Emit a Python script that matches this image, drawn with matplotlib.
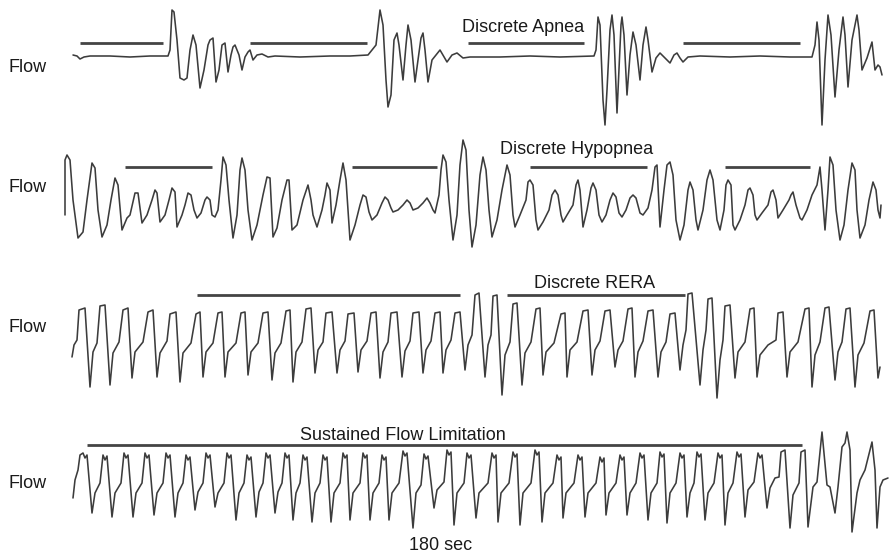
import numpy as np
import matplotlib
matplotlib.use("Agg")
import matplotlib.pyplot as plt

plt.rcParams['font.family'] = ['Liberation Sans', 'DejaVu Sans']

# ---------------- data (time sample, flow reading; readings grow downward) ----------------
apnea_trace = [
    (73,55),(77,56),(80,59),(84,57),(90,56),(110,56),(130,57),(150,56),(168,56),(170,50),(172,10),(174,12),
    (177,40),(180,78),(184,80),(187,78),(190,50),(193,35),(196,45),(200,88),(204,70),(208,45),(210,40),
    (213,38),(216,82),(219,70),(222,45),(225,43),(228,72),(231,55),(233,47),(235,45),(239,55),(242,70),
    (245,57),(248,52),(250,50),(253,60),(257,55),(262,54),(268,57),(275,56),(300,57),(330,56),(350,56),
    (368,55),(372,50),(376,45),(380,10),(383,25),(386,80),(388,107),(391,95),(394,40),(397,33),(399,45),
    (403,80),(406,45),(408,25),(411,40),(415,82),(418,60),(421,38),(423,33),(425,50),(428,82),(432,60),
    (436,55),(440,50),(447,62),(452,55),(457,53),(463,58),(470,57),(500,57),(530,56),(560,57),(594,56),
    (596,50),(598,17),(600,25),(603,100),(605,125),(607,90),(610,30),(612,15),(614,35),(617,113),(619,70),
    (621,25),(622,17),(624,35),(627,95),(630,55),(633,32),(636,45),(640,80),(643,45),(646,27),(648,40),
    (652,72),(656,58),(660,53),(665,58),(670,63),(674,55),(677,53),(680,58),(683,62),(688,57),(700,56),
    (730,57),(760,56),(790,57),(812,57),(815,45),(817,22),(819,40),(822,125),(825,60),(828,15),(831,35),
    (835,97),(839,50),(843,17),(845,35),(848,87),(852,40),(857,15),(859,30),(862,70),(867,58),(872,42),
    (875,70),(878,65),(880,67),(882,75),
]

hypopnea_trace = [
    (65,215),(65,160),(67,155),(70,160),(73,200),(78,238),(83,232),(87,200),(92,163),(95,168),(98,210),
    (102,237),(107,225),(111,200),(115,178),(118,185),(122,230),(127,218),(130,215),(135,193),(138,193),
    (142,223),(147,215),(152,200),(155,190),(157,193),(160,222),(165,215),(169,200),(172,188),(175,192),
    (177,227),(182,215),(185,205),(188,193),(191,195),(194,210),(197,218),(201,213),(205,200),(207,197),
    (210,200),(212,215),(215,217),(218,210),(221,180),(223,157),(226,165),(229,200),(233,238),(237,215),
    (240,170),(242,158),(245,170),(248,210),(252,240),(257,225),(263,195),(267,177),(270,178),(273,237),
    (277,228),(282,200),(287,180),(289,180),(292,230),(297,225),(303,200),(308,185),(311,200),(313,215),
    (317,227),(322,210),(325,195),(327,183),(330,190),(332,223),(336,205),(340,180),(343,163),(346,180),
    (350,240),(355,225),(360,205),(363,195),(366,197),(369,212),(372,220),(377,215),(382,203),(385,197),
    (388,200),(391,208),(393,212),(398,210),(403,205),(407,200),(410,203),(413,210),(418,208),(423,203),
    (427,198),(430,203),(433,210),(435,213),(439,195),(441,170),(443,155),(446,162),(449,200),(453,240),
    (457,215),(460,165),(463,140),(466,150),(469,210),(472,247),(476,225),(480,175),(483,157),(486,170),
    (489,210),(492,237),(497,220),(502,190),(507,165),(510,175),(513,215),(515,227),(520,215),(526,200),
    (528,182),(530,180),(533,185),(536,220),(538,230),(543,222),(549,210),(552,195),(555,190),(558,195),
    (561,215),(563,222),(567,215),(573,205),(576,185),(578,180),(580,190),(583,227),(587,210),(591,188),
    (593,183),(596,190),(599,215),(602,222),(606,215),(610,200),(613,193),(616,197),(619,213),(622,217),
    (626,210),(630,198),(633,195),(636,198),(640,213),(643,215),(648,208),(652,190),(655,167),(657,165),
    (660,227),(664,190),(667,165),(670,162),(673,175),(676,220),(680,240),(684,225),(688,190),(690,182),
    (693,190),(696,220),(698,230),(703,210),(707,180),(710,170),(713,180),(717,220),(720,230),(724,210),
    (726,185),(728,180),(731,185),(733,225),(735,230),(740,220),(745,205),(748,190),(750,188),(753,195),
    (755,215),(757,220),(762,213),(768,205),(771,192),(773,190),(776,200),(778,218),(783,210),(789,200),
    (791,195),(793,192),(796,205),(800,218),(802,220),(807,210),(812,195),(817,185),(820,167),(822,190),
    (825,230),(828,190),(830,157),(833,165),(836,210),(840,240),(844,225),(848,190),(852,163),(855,170),
    (857,210),(860,238),(865,225),(869,200),(873,182),(876,190),(878,210),(880,218),(881,205),
]

rera_trace = [
    (72,357),(74,345),(77,340),(79,310),(85,308),(90,387),
    (93,352),(97,343),(100,306),(105,305),(110,385),
    (113,353),(119,342),(123,310),(128,308),(132,378),
    (135,352),(143,342),(148,312),(153,310),(157,377),
    (160,353),(167,341),(170,314),(176,312),(180,382),
    (183,353),(191,343),(196,314),(200,312),(203,377),
    (206,352),(213,343),(218,313),(222,312),(225,377),
    (228,352),(236,343),(241,313),(245,312),(248,375),
    (251,352),(258,343),(263,313),(268,312),(272,380),
    (275,353),(281,343),(286,311),(290,310),(293,382),
    (296,352),(302,342),(306,309),(311,308),(315,373),
    (318,350),(323,342),(326,313),(332,312),(337,373),
    (340,350),(345,341),(348,314),(354,313),(358,372),
    (361,350),(367,341),(371,313),(376,312),(380,378),
    (383,352),(388,342),(391,313),(397,312),(402,377),
    (405,351),(410,341),(413,313),(419,312),(423,373),
    (426,350),(431,341),(435,313),(440,312),(443,373),
    (446,350),(451,340),(455,313),(460,312),(465,370),
    (468,345),(472,335),(475,295),(479,293),(485,377),
    (488,345),(491,335),(493,296),(497,295),(502,395),
    (505,355),(510,342),(513,304),(517,303),(522,385),
    (525,353),(531,342),(536,309),(540,308),(543,375),
    (546,352),(554,343),(561,314),(565,313),(567,377),
    (570,350),(577,342),(583,311),(588,310),(592,375),
    (595,350),(600,341),(605,311),(610,310),(615,367),
    (618,350),(623,341),(628,309),(632,308),(635,377),
    (638,352),(643,341),(648,311),(653,310),(658,377),
    (661,352),(666,342),(670,314),(675,313),(680,370),
    (683,345),(686,330),(688,294),(692,293),(700,385),
    (703,350),(706,330),(708,299),(712,298),(717,398),
    (720,360),(723,340),(725,306),(730,305),(735,378),
    (738,352),(745,342),(750,309),(754,308),(757,377),
    (760,355),(768,345),(776,340),(778,313),(783,312),(787,377),
    (790,352),(798,342),(805,309),(809,308),(812,387),
    (815,355),(820,342),(825,308),(829,307),(835,380),
    (838,352),(842,342),(846,309),(850,308),(855,387),
    (858,355),(864,343),(870,311),(874,310),(878,378),(880,367),
]

flowlim_trace = [
    (73,498),(75,480),(78,470),(80,455),(83,453),(85,458),(87,455),(92,513),
    (95,493),(100,483),(103,455),(105,460),(107,456),(112,517),
    (115,493),(121,483),(124,453),(126,458),(128,455),(133,517),
    (136,493),(142,483),(145,453),(147,458),(149,455),(154,515),
    (157,493),(163,483),(166,453),(168,458),(170,455),(175,517),
    (178,493),(183,483),(186,455),(188,460),(190,457),(195,510),
    (198,492),(203,483),(206,453),(208,458),(210,455),(215,507),
    (218,493),(224,483),(227,453),(229,458),(231,455),(236,520),
    (239,493),(244,483),(247,455),(249,460),(251,457),(256,517),
    (259,492),(263,483),(266,453),(268,458),(270,455),(275,513),
    (278,492),(282,483),(285,453),(287,458),(289,455),(293,520),
    (296,493),(300,483),(303,455),(305,460),(307,457),(312,522),
    (315,493),(320,483),(323,455),(325,460),(327,457),(331,522),
    (334,493),(340,483),(343,453),(345,458),(347,455),(350,520),
    (353,493),(360,483),(363,453),(365,458),(367,455),(370,520),
    (373,493),(379,483),(382,455),(384,460),(386,457),(389,520),
    (392,493),(399,483),(403,451),(405,456),(407,453),(413,528),
    (416,493),(421,485),(424,454),(426,459),(428,456),(434,508),
    (437,490),(444,482),(447,450),(449,455),(451,452),(454,525),
    (457,493),(464,483),(467,453),(469,458),(471,455),(476,518),
    (479,493),(488,483),(492,453),(494,458),(496,455),(498,522),
    (501,493),(509,483),(513,452),(515,457),(517,454),(520,525),
    (523,493),(531,483),(535,450),(537,455),(539,452),(542,522),
    (545,493),(553,483),(557,455),(559,460),(561,457),(563,518),
    (566,493),(574,483),(578,455),(580,460),(582,457),(585,517),
    (588,493),(596,483),(600,457),(602,462),(604,458),(606,515),
    (609,493),(616,483),(620,455),(622,460),(624,457),(627,515),
    (630,493),(636,483),(640,453),(642,458),(644,455),(648,520),
    (651,493),(657,483),(660,452),(662,457),(664,454),(667,523),
    (670,493),(676,483),(680,453),(682,458),(684,455),(687,517),
    (690,493),(694,483),(697,452),(699,457),(701,454),(705,520),
    (708,493),(714,483),(718,453),(720,458),(722,455),(725,525),
    (728,493),(733,483),(737,452),(739,457),(741,454),(745,517),
    (748,490),(754,482),(758,453),(760,458),(762,455),(767,508),
    (770,488),(775,478),(779,477),(781,452),(785,450),(790,528),
    (793,495),(799,483),(801,452),(805,450),(808,527),
    (813,487),(817,482),(822,432),(827,485),(830,487),(835,513),
    (838,487),(842,447),(845,443),(847,432),(850,450),(852,532),
    (857,493),(860,480),(865,470),(872,442),(875,470),(877,528),
    (880,487),(883,480),(888,478),
]

# scored event spans (start, end) on the same time axis
apnea_events = [(80, 163), (250, 367), (468, 584), (683, 800)]
hypopnea_events = [(125, 212), (352, 437), (530, 647), (725, 810)]
rera_events = [(197, 460), (507, 685)]
flowlim_events = [(87, 802)]

row_labels = ["Flow", "Flow", "Flow", "Flow"]
event_titles = ["Discrete Apnea", "Discrete Hypopnea", "Discrete RERA", "Sustained Flow Limitation"]
time_label = "180 sec"

# ---------------- drawing ----------------
fig = plt.figure(figsize=(8.89, 5.57), dpi=100)
fig.patch.set_facecolor("white")
ax = fig.add_axes([0, 0, 1, 1])
ax.set_xlim(0, 889)
ax.set_ylim(557, 0)
ax.axis("off")

wave_color = "#3c3c3c"
bar_color = "#444444"

traces = [apnea_trace, hypopnea_trace, rera_trace, flowlim_trace]
events = [apnea_events, hypopnea_events, rera_events, flowlim_events]
bar_levels = [43, 167, 295, 445]
label_levels = [67, 188, 327, 483]
title_pos = [(523, 28), (577, 150), (595, 284), (403, 435)]

for tr, ev, bl, ll, lab, ttl, tp in zip(traces, events, bar_levels, label_levels,
                                         row_labels, event_titles, title_pos):
    arr = np.array(tr, dtype=float)
    ax.plot(arr[:, 0], arr[:, 1], color=wave_color, lw=1.15,
            solid_joinstyle="round", solid_capstyle="round")
    for s, e in ev:
        ax.plot([s, e], [bl, bl], color=bar_color, lw=2.0, solid_capstyle="butt")
    ax.text(8, ll, lab, fontsize=13, ha="left", va="center", color="#1a1a1a")
    ax.text(tp[0], tp[1], ttl, fontsize=13, ha="center", va="center", color="#1a1a1a")

ax.text(441, 546, time_label, fontsize=13, ha="center", va="center", color="#1a1a1a")

fig.savefig("out.png", dpi=100, facecolor="white")
